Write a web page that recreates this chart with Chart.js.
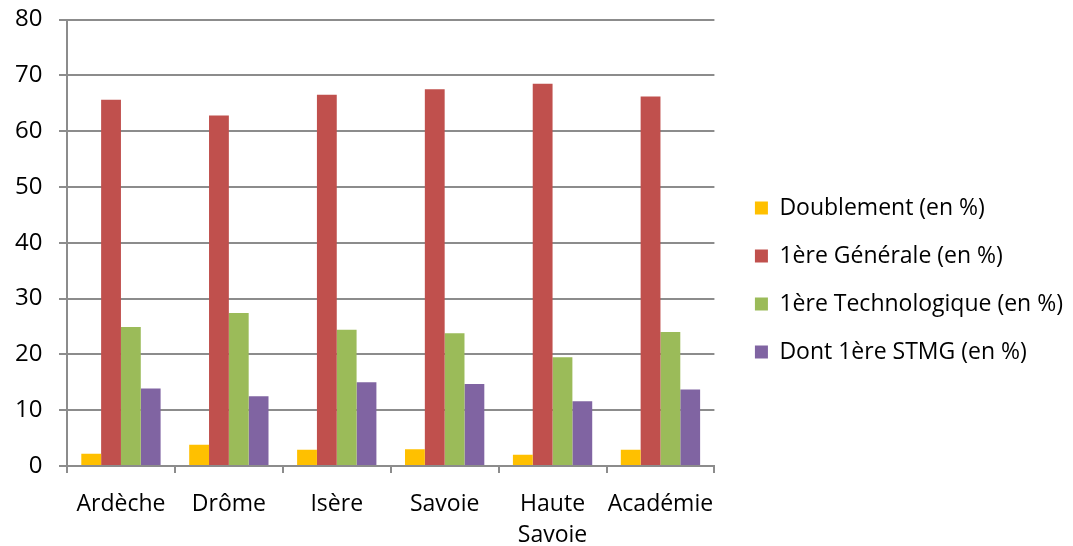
<!DOCTYPE html>
<html>
<head>
<meta charset="utf-8">
<script src="https://cdn.jsdelivr.net/npm/chart.js@4/dist/chart.umd.min.js"></script>
<style>
  html, body { margin: 0; padding: 0; background: #fff; }
  #wrap { width: 1073px; height: 546px; position: relative; }
</style>
</head>
<body>
<div id="wrap"><canvas id="myChart"></canvas></div>
<script>
// data
const categories = ['Ardèche', 'Drôme', 'Isère', 'Savoie', ['Haute', 'Savoie'], 'Académie'];
const doublement = [2.2, 3.8, 2.9, 3.0, 2.0, 2.9];
const generale = [65.6, 62.8, 66.5, 67.5, 68.5, 66.2];
const techno = [24.9, 27.4, 24.4, 23.8, 19.5, 24.0];
const stmg = [13.9, 12.5, 15.0, 14.7, 11.6, 13.7];
const seriesNames = ['Doublement (en %)', '1ère Générale (en %)', '1ère Technologique (en %)', 'Dont 1ère STMG (en %)'];
const yTicks = [0, 10, 20, 30, 40, 50, 60, 70, 80];

const colors = ['#FFC000', '#C0504D', '#9BBB59', '#8064A2'];
const gridColor = '#8c8c8c';
const fontFamily = '"Open Sans", sans-serif';

const ctx = document.getElementById('myChart');

const datasets = [doublement, generale, techno, stmg].map((vals, i) => ({
    label: seriesNames[i],
    data: vals,
    backgroundColor: colors[i],
    borderWidth: 0,
    categoryPercentage: 0.735,
    barPercentage: 1
}));

const myChart = new Chart(ctx, {
    type: 'bar',
    data: { labels: categories, datasets },
    options: {
        responsive: true,
        maintainAspectRatio: false,
        animation: false,
        layout: { padding: { left: 0, top: 14, right: 0, bottom: 0 } },
        plugins: {
            tooltip: { enabled: false },
            legend: {
                position: 'right',
                maxWidth: 400,
                labels: {
                    color: '#000',
                    font: { family: fontFamily, size: 23 },
                    boxWidth: 13,
                    boxHeight: 13,
                    padding: 25
                }
            }
        },
        scales: {
            x: {
                grid: {
                    display: true,
                    drawOnChartArea: false, // only the small ticks between categories
                    drawTicks: true,
                    tickLength: 7,
                    color: gridColor,
                    lineWidth: 2
                },
                border: { display: true, color: gridColor, width: 2 },
                ticks: {
                    color: '#000',
                    font: { family: fontFamily, size: 23, lineHeight: 1.35 },
                    padding: 15.5,
                    maxRotation: 0,
                    autoSkip: false
                },
                afterFit: scale => { scale.height = 80; }
            },
            y: {
                min: 0,
                max: 80,
                afterBuildTicks: scale => {
                    scale.ticks = yTicks.map(v => ({ value: v }));
                },
                grid: {
                    color: gridColor,
                    lineWidth: 2,
                    tickLength: 8
                },
                border: { display: true, color: gridColor, width: 2 },
                ticks: {
                    color: '#000',
                    font: { family: fontFamily, size: 24 },
                    padding: 16.5
                },
                afterFit: scale => {
                    scale.width = 67;
                    scale.paddingTop = 19.5;
                }
            },
            // empty axis, only used to keep a gap before the legend
            gap: {
                type: 'linear',
                position: 'right',
                display: true,
                grid: { display: false },
                border: { display: false },
                ticks: { display: false },
                afterFit: scale => { scale.width = 15.5; }
            }
        }
    }
});
</script>
</body>
</html>
